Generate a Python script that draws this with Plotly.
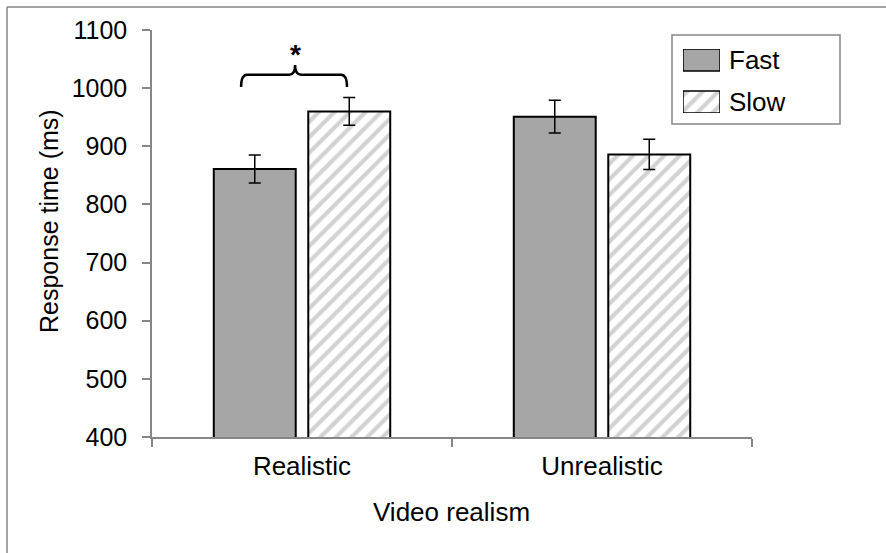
import plotly.graph_objects as go

# ---- data ----
categories = ["Realistic", "Unrealistic"]
fast_means = [861, 951]
fast_err = [24, 28]
slow_means = [960, 886]
slow_err = [24, 26]
y_ticks = [400, 500, 600, 700, 800, 900, 1000, 1100]
series_names = ["Fast", "Slow"]

FONT = "Liberation Sans, Arial, sans-serif"
GRAY_FILL = "#a6a6a6"
AXIS_GRAY = "#868686"

# layout geometry (pixels)
W, H = 886, 553
L, R, T, B = 152, 134, 30, 116
PW, PH = W - L - R, H - T - B


def px_x(p):
    return (p - L) / PW


def px_y(p):
    return (H - B - p) / PH


fig = go.Figure()

fig.add_trace(go.Bar(
    name=series_names[0], x=categories, y=fast_means,
    marker=dict(color=GRAY_FILL, line=dict(color="black", width=2)),
    error_y=dict(type="data", array=fast_err, color="black", thickness=1.5, width=6),
    showlegend=False,
))
fig.add_trace(go.Bar(
    name=series_names[1], x=categories, y=slow_means,
    marker=dict(color="white", line=dict(color="black", width=2),
                pattern=dict(shape="/", fgcolor=GRAY_FILL, bgcolor="white",
                             size=11, solidity=0.38)),
    error_y=dict(type="data", array=slow_err, color="black", thickness=1.5, width=6),
    showlegend=False,
))

# ---- custom legend swatches (on an overlay axis) ----
fig.add_trace(go.Bar(
    x=[0], y=[22], base=[42], width=[1], offset=-0.5,
    xaxis="x2", yaxis="y2", showlegend=False, hoverinfo="skip",
    marker=dict(color=GRAY_FILL, line=dict(color="black", width=1.5)),
))
fig.add_trace(go.Bar(
    x=[0], y=[22], base=[0], width=[1], offset=-0.5,
    xaxis="x2", yaxis="y2", showlegend=False, hoverinfo="skip",
    marker=dict(color="white", line=dict(color="black", width=1.5),
                pattern=dict(shape="/", fgcolor=GRAY_FILL, bgcolor="white",
                             size=11, solidity=0.38)),
))

shapes = [
    # outer frame (top and left)
    dict(type="line", xref="paper", yref="paper", x0=px_x(7), x1=px_x(886),
         y0=px_y(7), y1=px_y(7), line=dict(color=AXIS_GRAY, width=1.5)),
    dict(type="line", xref="paper", yref="paper", x0=px_x(7), x1=px_x(7),
         y0=px_y(7), y1=px_y(560), line=dict(color=AXIS_GRAY, width=1.5)),
    # legend box
    dict(type="rect", xref="paper", yref="paper", x0=px_x(672), x1=px_x(840),
         y0=px_y(124), y1=px_y(35), line=dict(color=AXIS_GRAY, width=1.5),
         fillcolor="white", layer="below"),
]

# significance bracket (data coordinates)
xl, xs, xr = -0.203, -0.023, 0.15
yb, ym, yt = 1002, 1023, 1040
d = 0.02
bracket = (f"M {xl},{yb} Q {xl},{ym} {xl + d},{ym} L {xs - d},{ym} "
           f"Q {xs},{ym} {xs},{yt} Q {xs},{ym} {xs + d},{ym} "
           f"L {xr - d},{ym} Q {xr},{ym} {xr},{yb}")
shapes.append(dict(type="path", xref="x", yref="y", path=bracket,
                   line=dict(color="black", width=2.5)))

annotations = [
    dict(text="<b>*</b>", x=xs, y=1058, xref="x", yref="y", showarrow=False,
         font=dict(family=FONT, size=28, color="black"),
         xanchor="center", yanchor="middle"),
    dict(text="Response time (ms)", textangle=-90, x=px_x(49), y=px_y(221),
         xref="paper", yref="paper", showarrow=False,
         xanchor="center", yanchor="middle",
         font=dict(family=FONT, size=25, color="black")),
    dict(text="Video realism", x=px_x(451), y=px_y(512), xref="paper", yref="paper",
         showarrow=False, xanchor="center", yanchor="middle",
         font=dict(family=FONT, size=26, color="black")),
    dict(text=series_names[0], x=px_x(727), y=px_y(60), xref="paper", yref="paper",
         xanchor="left", yanchor="middle", showarrow=False,
         font=dict(family=FONT, size=26, color="black")),
    dict(text=series_names[1], x=px_x(727), y=px_y(102), xref="paper", yref="paper",
         xanchor="left", yanchor="middle", showarrow=False,
         font=dict(family=FONT, size=26, color="black")),
]

fig.update_layout(
    width=W, height=H,
    margin=dict(l=L, r=R, t=T, b=B, pad=0),
    paper_bgcolor="white", plot_bgcolor="white",
    barmode="group", bargap=0.37, bargroupgap=0.133,
    showlegend=False,
    font=dict(family=FONT, color="black"),
    xaxis=dict(
        type="category", range=[-0.5, 1.5],
        showline=True, linecolor=AXIS_GRAY, linewidth=1.5,
        ticks="outside", tickson="boundaries", ticklen=8, tickcolor=AXIS_GRAY, tickwidth=1.5,
        tickfont=dict(family=FONT, size=26, color="black"), ticklabelstandoff=5,
        showgrid=False, zeroline=False, fixedrange=True,
    ),
    yaxis=dict(
        range=[400, 1100], tickvals=y_ticks,
        showline=True, linecolor=AXIS_GRAY, linewidth=1.5,
        ticks="outside", ticklen=8, tickcolor=AXIS_GRAY, tickwidth=1.5,
        tickfont=dict(family=FONT, size=25, color="black"), ticklabelstandoff=10,
        showgrid=False, zeroline=False, fixedrange=True,
    ),
    xaxis2=dict(domain=[px_x(683), px_x(720)], range=[-0.5, 0.5], anchor="y2",
                visible=False, fixedrange=True),
    yaxis2=dict(domain=[px_y(113), px_y(49)], range=[0, 64], anchor="x2",
                visible=False, fixedrange=True),
    shapes=shapes,
    annotations=annotations,
)

fig.write_html("out.html", config={"displayModeBar": False},
               post_script="document.body.style.margin='0';")
